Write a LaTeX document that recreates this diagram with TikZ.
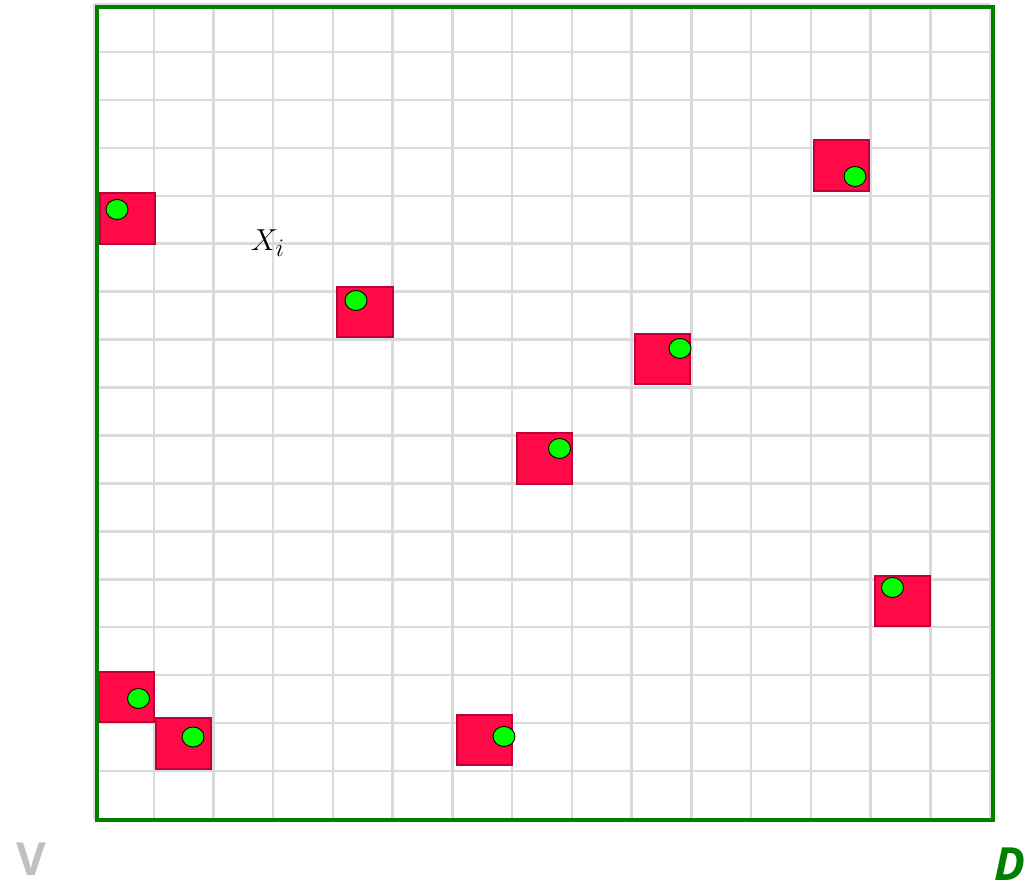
\documentclass[tikz,border=0pt]{standalone}
\usepackage{fontspec}
\newfontfamily\labelfont{Open Sans}
\usetikzlibrary{shapes.geometric}
\definecolor{cellFill}{HTML}{FF0A46}
\definecolor{cellBorder}{HTML}{C0003A}
\definecolor{dotFill}{HTML}{00FF00}
\definecolor{frameGreen}{HTML}{008000}
\definecolor{gridGray}{HTML}{DADADA}
\definecolor{labelGray}{HTML}{C0C0C0}

\begin{document}
\begin{tikzpicture}[
    cell/.style={
        rectangle, draw=cellBorder, fill=cellFill,
        line width=1.4pt, inner sep=0pt,
        minimum width=1.11cm, minimum height=1.01cm
    },
    dot/.style={
        ellipse, draw=black, fill=dotFill,
        line width=0.5pt, inner sep=0pt,
        minimum width=0.44cm, minimum height=0.40cm
    },
    gridline/.style={draw=gridGray, line width=1.4pt},
    frame/.style={draw=frameGreen, line width=2.3pt},
    corner/.style={font=\labelfont\bfseries\fontsize{26}{28}\selectfont, inner sep=0pt},
    cornerit/.style={font=\labelfont\bfseries\itshape\fontsize{26}{28}\selectfont, inner sep=0pt}
]
  \useasboundingbox (0,0) rectangle (20.54,17.7);

  % Background grid: 15 columns, 17 rows
  \foreach \i in {0,...,15}
    \draw[gridline] ({1.88+\i*1.1947},1.32) -- ({1.88+\i*1.1947},17.62);
  \foreach \j in {0,...,17}
    \draw[gridline] (1.88,{1.32+\j*0.9588}) -- (19.80,{1.32+\j*0.9588});

  % Occupied cells
  \node[cell] (c1) at (2.55, 13.33) {};
  \node[cell] (c2) at (7.30, 11.46) {};
  \node[cell] (c3) at (16.83, 14.39) {};
  \node[cell] (c4) at (2.53, 3.76) {};
  \node[cell] (c5) at (3.67, 2.83) {};
  \node[cell] (c6) at (9.69, 2.90) {};
  \node[cell] (c7) at (10.89, 8.53) {};
  \node[cell] (c8) at (13.25, 10.52) {};
  \node[cell] (c9) at (18.05, 5.68) {};

  % Points inside the cells
  \node[dot] (p1) at (2.34, 13.51) {};
  \node[dot] (p2) at (7.12, 11.69) {};
  \node[dot] (p3) at (17.10, 14.17) {};
  \node[dot] (p4) at (2.77, 3.73) {};
  \node[dot] (p5) at (3.86, 2.96) {};
  \node[dot] (p6) at (10.08, 2.97) {};
  \node[dot] (p7) at (11.19, 8.73) {};
  \node[dot] (p8) at (13.60, 10.73) {};
  \node[dot] (p9) at (17.85, 5.95) {};

  % Domain boundary
  \draw[frame] (1.94, 1.30) rectangle (19.86, 17.56);

  % Labels
  \node[font=\fontsize{19}{21}\selectfont] (xi) at (5.36, 12.84) {$X_i$};
  \node[corner, text=labelGray] (vlabel) at (0.62, 0.52) {V};
  \node[cornerit, text=frameGreen] (dlabel) at (20.19, 0.42) {D};

\end{tikzpicture}
\end{document}
